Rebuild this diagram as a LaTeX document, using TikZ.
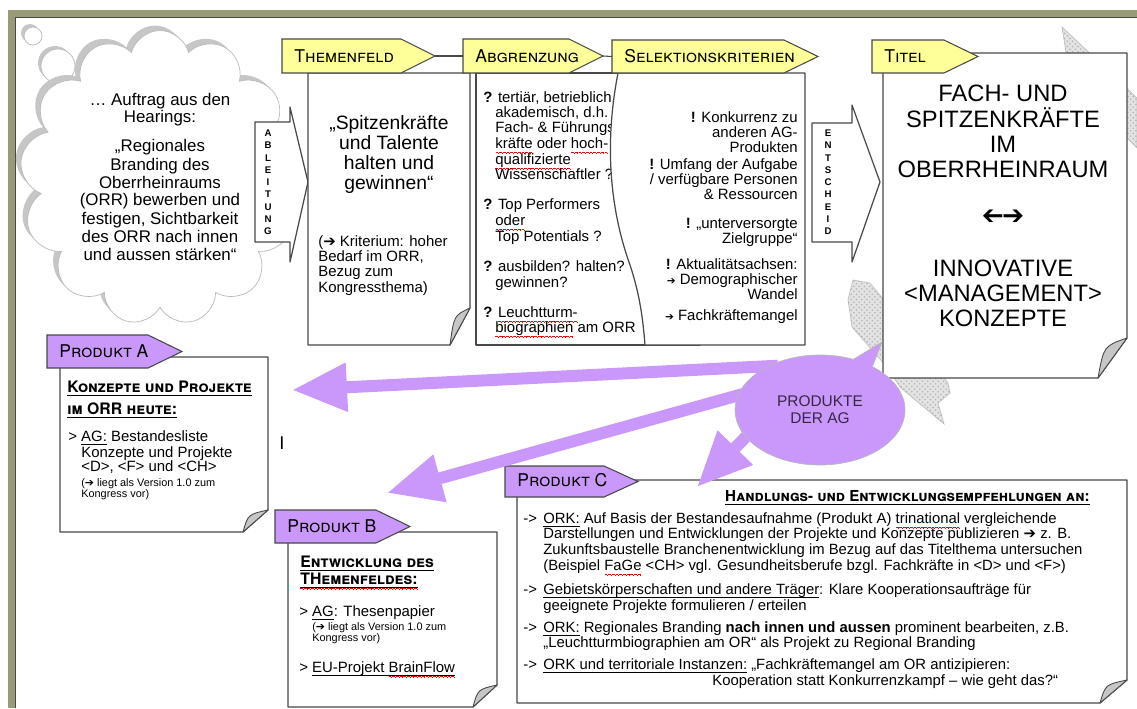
\documentclass[tikz,border=0pt]{standalone}
\usepackage{graphicx}
\usepackage{fontspec}
\setmainfont{Liberation Sans}
\newfontfamily\scfont{TeX Gyre Heros}
\newfontfamily\arrowfont{DejaVu Sans}
\usetikzlibrary{arrows.meta,shapes.symbols,shapes.callouts,patterns}

\definecolor{tagyellow}{RGB}{255,255,153}
\definecolor{prodlila}{RGB}{201,152,250}
\definecolor{frameolive}{RGB}{152,155,118}
\definecolor{edgegray}{RGB}{72,72,72}
\definecolor{agtext}{RGB}{55,38,72}

\newcommand\ulin[1]{\mbox{\setbox0=\hbox{#1}\rlap{\smash{\rule[-1.6pt]{\wd0}{0.5pt}}}\box0}}
\newcommand\spell[1]{\mbox{\setbox0=\hbox{#1}\rlap{\smash{\hbox to \wd0{\color{red}%
  \xleaders\hbox{\rule[-2.5pt]{0.5pt}{0.45pt}\rule[-2.1pt]{0.5pt}{0.45pt}%
  \rule[-2.5pt]{0.5pt}{0.45pt}\rule[-2.9pt]{0.5pt}{0.45pt}}\hfill}}}\box0}}

\pgfdeclarelayer{front}
\pgfsetlayers{main,front}

\tikzset{
  box/.style={draw=edgegray, fill=white, line width=0.7pt, line join=round},
  curl/.style={draw=edgegray, fill=gray!45, line width=0.5pt, line join=round},
  tagbox/.style={draw=edgegray, line width=0.6pt},
  tagtext/.style={anchor=base west, inner sep=0pt, font=\fontsize{10}{10}\selectfont\scfont\scshape},
  band/.style={fill=gray!22, draw=gray!50, line width=0.4pt,
    postaction={pattern=crosshatch dots, pattern color=gray!60}},
  thought/.style={cloud, cloud puffs=13, cloud ignores aspect,
    minimum width=5.6cm, minimum height=5.9cm},
  cloudtxt/.style={anchor=mid, inner sep=0pt, font=\fontsize{9.6}{10}\selectfont},
  themtxt/.style={anchor=mid, inner sep=0pt, font=\fontsize{11}{11}\selectfont},
  smalltxt/.style={anchor=mid west, inner sep=0pt, font=\fontsize{8.5}{9}\selectfont},
  selekttxt/.style={anchor=mid east, inner sep=0pt, font=\fontsize{8.5}{9}\selectfont},
  tinytxt/.style={anchor=mid west, inner sep=0pt, font=\fontsize{6.2}{6.5}\selectfont},
  titeltxt/.style={anchor=mid, inner sep=0pt, font=\fontsize{13.5}{13.5}\selectfont},
  headtxt/.style={anchor=mid west, inner sep=0pt, font=\fontsize{9}{9}\selectfont\scfont\bfseries\scshape},
  ctxt/.style={anchor=mid west, inner sep=0pt, font=\fontsize{8.45}{9}\selectfont},
  vletter/.style={anchor=mid, inner sep=0pt, font=\fontsize{5.5}{5.5}\selectfont\bfseries},
  prodarrow/.style={draw=prodlila, line width=0.24cm, shorten <=-0.2cm,
    -{Triangle[length=1.1cm,width=0.92cm]}}
}

\begin{document}
\begin{tikzpicture}[x=0.02cm,y=-0.02cm]
\useasboundingbox (0,0) rectangle (1137,708);

% frame of the screenshot
\fill[frameolive] (8,10) rectangle (1137,17);
\fill[frameolive] (8,10) rectangle (15,708);
\draw[edgegray, line width=0.5pt] (1137,17) -- (15,17) -- (15,708);

% grey bands behind the title page
\path[band] (1062,27) -- (1137,98) -- (1137,148) -- (1090,100) -- (1066,52) -- cycle;
\path[band] (853,280) -- (848,300) -- (852,327) -- (887,367) -- (900,387) -- (944,424)
  -- (938,403) -- (950,393) -- (948,383) -- (900,320) -- (870,283) -- cycle;

% thought cloud
\foreach \cx/\cy/\r in {58/66/17, 33/36/9}{
  \fill[gray!45] (\cx-3,\cy-3) circle [radius=\r];
  \filldraw[fill=white, draw=gray!55, line width=0.4pt] (\cx,\cy) circle [radius=\r];
}
\node[thought, fill=gray!45] (cloudshade) at (155,173) {};
\node[thought, fill=white, draw=gray!55, line width=0.4pt] (cloud) at (160,178) {};

\foreach \y/\t [count=\i] in {101/{… Auftrag aus den}, 118/{Hearings:},
  147/{„Regionales}, 166/{Branding des}, 184/{Oberrheinraums},
  201/{(ORR) bewerben und}, 220/{festigen, Sichtbarkeit},
  238/{des ORR nach innen}, 256/{und aussen stärken“}}
  \node[cloudtxt] (auftrag-\i) at (160,\y) {\t};

% ABLEITUNG
\draw[box] (255,122) -- (290,122) -- (290,107) -- (308,182) -- (290,262)
  -- (290,242) -- (255,242) -- cycle;
\foreach \c [count=\i] in {A,B,L,E,I,T,U,N,G}
  \node[vletter] (abl-\i) at (268,{132+(\i-1)*12.25}) {\c};

% pages with curl
\foreach \xa/\ya/\xb/\yb/\w/\h in {308/73/470/345/20/37, 883/53/1127/378/29/40,
  60/357/268/532/25/22, 288/532/497/707/24/22, 517/480/1127/703/27/23}{
  \draw[box] (\xa,\ya) -- (\xb,\ya) -- (\xb,\yb-\h) -- (\xb-\w,\yb) -- (\xa,\yb) -- cycle;
  \draw[curl] (\xb,\yb-\h) -- (\xb-\w,\yb)
    .. controls (\xb-0.8*\w,\yb-0.8*\h) .. (\xb,\yb-\h) -- cycle;
}

% Abgrenzung (partly hidden)
\draw[box] (476,73) rectangle (700,345);
\foreach \x/\y/\t [count=\i] in {483/98/{\textbf{?} tertiär, betrieblich,},
  495/113/{akademisch, d.h.}, 495/128/{Fach- \& Führungs-},
  495/144/{\spell{kräfte} oder \spell{hoch-}},
  495/160/{\spell{qualifizierte}}, 495/175/{Wissenschaftler ?},
  483/205/{\textbf{?} Top Performers}, 495/221/{\spell{oder}}, 495/237/{Top Potentials ?},
  483/267/{\textbf{?} ausbilden? halten?}, 495/283/{gewinnen?},
  483/313/{\textbf{?} \spell{Leuchtturm-}}, 495/328/{\spell{biographien} am ORR}}
  \node[smalltxt] (abgr-\i) at (\x,\y) {\t};

% Selektionskriterien
\draw[box] (618,73) .. controls (603,150) and (612,215) .. (630,265)
  .. controls (640,295) and (643,320) .. (645,345) -- (805,345) -- (805,73) -- cycle;
\foreach \y/\t [count=\i] in {118/{\textbf{!} Konkurrenz zu}, 133/{anderen AG-}, 148/{Produkten},
  165/{\textbf{!} Umfang der Aufgabe}, 180/{/ verfügbare Personen}, 195/{\& Ressourcen},
  224/{\textbf{!} „unterversorgte}, 239/{Zielgruppe“},
  265/{\textbf{!} Aktualitätsachsen:},
  280/{{\arrowfont\fontsize{6}{6}\selectfont ➔} Demographischer}, 295/{Wandel},
  316/{{\arrowfont\fontsize{6}{6}\selectfont ➔} Fachkräftemangel}}
  \node[selekttxt] (selekt-\i) at (798,\y) {\t};

% ENTSCHEID
\draw[box] (812,123) -- (852,123) -- (852,105) -- (880,182) -- (852,262)
  -- (852,242) -- (812,242) -- cycle;
\foreach \c [count=\i] in {E,N,T,S,C,H,E,I,D}
  \node[vletter] (ent-\i) at (828,{132+(\i-1)*12.25}) {\c};

% tags
\foreach \xa/\xb/\ya/\yb/\col/\txt/\nm in {282/435/39/73/tagyellow/Themenfeld/themen,
  463/603/39/73/tagyellow/Abgrenzung/abgr, 612/818/40/73/tagyellow/Selektionskriterien/selekt,
  872/978/40/73/tagyellow/Titel/titel, 47/182/335/368/prodlila/Produkt A/proda,
  275/410/510/543/prodlila/Produkt B/prodb, 505/638/466/497/prodlila/Produkt C/prodc}{
  \draw[tagbox, fill=\col] (\xa,\ya) -- (\xb-34,\ya) -- (\xb,{(\ya+\yb)/2})
    -- (\xb-34,\yb) -- (\xa,\yb) -- cycle;
  \coordinate (\nm-in) at (\xa,{(\ya+\yb)/2});
  \coordinate (\nm-tip) at (\xb,{(\ya+\yb)/2});
  \node[tagtext] (tag-\nm) at (\xa+12,\yb-11) {\txt};
}
\draw[edgegray, line width=0.6pt] (themen-tip) -- (abgr-in);
\draw[edgegray, line width=0.6pt] (abgr-tip) -- (selekt-in);

% Themenfeld
\foreach \y/\t [count=\i] in {125/{„Spitzenkräfte}, 145/{und Talente}, 165/{halten und}, 185/{gewinnen“}}
  \node[themtxt] (spitzen-\i) at (389,\y) {\t};
\foreach \y/\t [count=\i] in {242/{({\arrowfont ➔} Kriterium: hoher}, 257/{Bedarf im ORR,},
  272/{Bezug zum}, 288/{Kongressthema)}}
  \node[smalltxt] (krit-\i) at (318,\y) {\t};

% Titel
\foreach \y/\t [count=\i] in {97/{FACH- UND}, 123/{SPITZENKRÄFTE}, 148/{IM}, 173/{OBERRHEINRAUM},
  220/{{\arrowfont\fontsize{15}{15}\selectfont\reflectbox{➔}\kern-1pt➔}}, 272/{INNOVATIVE},
  297/{<MANAGEMENT>}, 322/{KONZEPTE}}
  \node[titeltxt] (titel-\i) at (1003,\y) {\t};

% Produkt A
\node[headtxt] (heada-1) at (67,388) {\ulin{Konzepte und Projekte}};
\node[headtxt] (heada-2) at (67,410) {\ulin{im ORR heute:}};
\foreach \x/\y/\t [count=\i] in {68/437/{> \ulin{AG:} Bestandesliste},
  81/453/{Konzepte und Projekte}, 81/467/{<D>, <F> und <CH>}}
  \node[smalltxt] (proda-\i) at (\x,\y) {\t};
\node[tinytxt] (versa-1) at (81,482) {({\arrowfont ➔} liegt als Version 1.0 zum};
\node[tinytxt] (versa-2) at (81,493) {Kongress vor)};
\node[font=\fontsize{10.5}{10.5}\selectfont, inner sep=0pt] (cursor) at (282,443) {I};

% Produkt B
\node[headtxt] (headb-1) at (300,563) {\ulin{Entwicklung des}};
\node[headtxt] (headb-2) at (300,580) {\ulin{\spell{THemenfeldes:}}};
\node[smalltxt] (prodb-1) at (299,612) {> \ulin{AG}: Thesenpapier};
\node[tinytxt] (versb-1) at (312,626) {({\arrowfont ➔} liegt als Version 1.0 zum};
\node[tinytxt] (versb-2) at (312,637) {Kongress vor)};
\node[smalltxt] (prodb-2) at (299,668) {> \ulin{EU-Projekt \spell{BrainFlow}}};

% Produkt C
\node[headtxt, anchor=mid east, font=\fontsize{8.6}{9}\selectfont\scfont\bfseries\scshape] (headc) at (1090,497)
  {\ulin{Handlungs- und Entwicklungsempfehlungen an:}};
\foreach \y [count=\i] in {519,590,628,665}
  \node[ctxt] (dash-\i) at (523,\y) {->};
\foreach \x/\y/\t [count=\i] in {
  543/519/{\ulin{ORK:} Auf Basis der Bestandesaufnahme (Produkt A) \spell{trinational} vergleichende},
  543/534/{Darstellungen und Entwicklungen der Projekte und Konzepte publizieren {\arrowfont ➔} z. B.},
  543/550/{Zukunftsbaustelle Branchenentwicklung im Bezug auf das Titelthema untersuchen},
  543/566/{(Beispiel \spell{FaGe} <CH> vgl. Gesundheitsberufe bzgl. Fachkräfte in <D> und <F>)},
  543/590/{\ulin{Gebietskörperschaften und andere Träger}: Klare Kooperationsaufträge für},
  543/606/{geeignete Projekte formulieren / erteilen},
  543/628/{\ulin{ORK:} Regionales Branding \textbf{nach innen und aussen} prominent bearbeiten, z.B.},
  543/643/{„Leuchtturmbiographien am OR“ als Projekt zu Regional Branding},
  543/665/{\ulin{ORK und territoriale Instanzen:} „Fachkräftemangel am OR antizipieren:},
  712/681/{Kooperation statt Konkurrenzkampf – wie geht das?“}}
  \node[ctxt] (prodc-\i) at (\x,\y) {\t};

% Produkte der AG
\begin{pgfonlayer}{front}
\node[ellipse callout, callout absolute pointer={(882,342)}, fill=prodlila, draw=gray!55,
  line width=0.4pt, minimum width=3.4cm, minimum height=2.2cm, align=center, text=agtext,
  font=\fontsize{8.8}{9.6}\selectfont, inner sep=0pt] (ag) at (820,410) {PRODUKTE\\DER AG};
\end{pgfonlayer}
\coordinate (tipA) at (292,390);
\coordinate (tipB) at (387,493);
\coordinate (tipC) at (697,487);
\draw[prodarrow] (ag.140) -- (tipA);
\draw[prodarrow] (ag.170) -- (tipB);
\draw[prodarrow] (ag.200) -- (tipC);

\end{tikzpicture}
\end{document}
